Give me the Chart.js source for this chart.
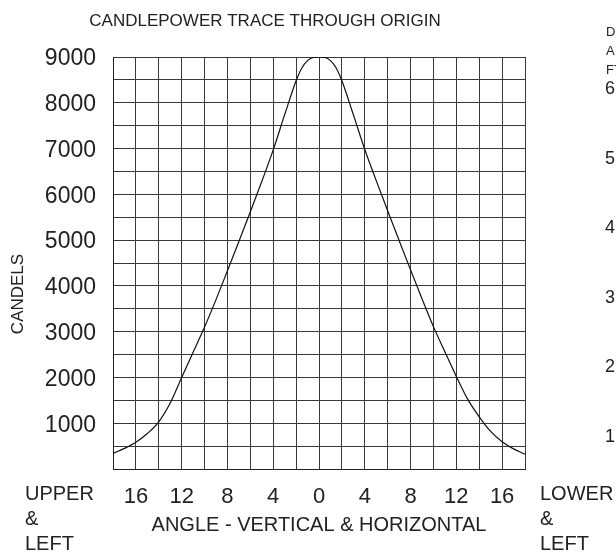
<!DOCTYPE html>
<html>
<head>
<meta charset="utf-8">
<title>Candlepower trace</title>
<script src="https://cdn.jsdelivr.net/npm/chart.js@4.4.1/dist/chart.umd.min.js"></script>
<style>
  html, body { margin: 0; padding: 0; background: #fff; }
  #wrap { width: 616px; height: 552px; }
</style>
</head>
<body>
<div id="wrap"><canvas id="cpChart" width="616" height="552"></canvas></div>
<script>
// angle off axis (deg, upper/left negative) and candela at that angle
const angles = [-18, -17, -16, -15, -14, -13, -12, -11, -10, -9, -8, -7, -6, -5, -4, -3, -2, -1.5, -1, -0.5,
  0, 0.5, 1, 1.5, 2, 3, 4, 5, 6, 7, 8, 9, 10, 11, 12, 13, 14, 15, 16, 17, 18];
const candelas = [340, 450, 585, 775, 1030, 1440, 2000, 2550, 3100, 3700, 4330, 4970, 5620, 6280, 6970, 7740, 8480, 8760, 8920, 8990,
  9000, 8990, 8920, 8760, 8480, 7740, 6980, 6300, 5640, 4990, 4350, 3720, 3110, 2560, 2020, 1520, 1140, 820, 595, 440, 325];

const angleTicks = [-16, -12, -8, -4, 0, 4, 8, 12, 16];
const candelaTicks = [1000, 2000, 3000, 4000, 5000, 6000, 7000, 8000, 9000];
// scale from the neighbouring distance chart, cut off at the page edge
const distHead = ['D', 'A', 'FT'];
const distTicks = ['6', '5', '4', '3', '2', '1'];

const FONT = '"Liberation Sans", Arial, Helvetica, sans-serif';
const INK = '#222';

const extraText = {
  id: 'extraText',
  afterDraw(chart) {
    const ctx = chart.ctx;
    ctx.save();
    ctx.fillStyle = INK;
    ctx.textBaseline = 'middle';

    ctx.textAlign = 'center';
    ctx.font = '17px ' + FONT;
    ctx.fillText('CANDLEPOWER TRACE THROUGH ORIGIN', 265, 21);

    // y axis name
    ctx.save();
    ctx.translate(18, 294);
    ctx.rotate(-Math.PI / 2);
    ctx.font = '17px ' + FONT;
    ctx.fillText('CANDELS', 0, 0);
    ctx.restore();

    ctx.textAlign = 'left';
    ctx.font = '20px ' + FONT;
    ['UPPER', '&', 'LEFT'].forEach((t, i) => ctx.fillText(t, 25, 494 + i * 25));
    ['LOWER', '&', 'LEFT'].forEach((t, i) => ctx.fillText(t, 540, 494 + i * 25));

    ctx.font = '13px ' + FONT;
    distHead.forEach((t, i) => ctx.fillText(t, 606, 32 + i * 19));
    ctx.font = '18px ' + FONT;
    distTicks.forEach((t, i) => ctx.fillText(t, 605, 89 + i * 69.6));
    ctx.restore();
  }
};

new Chart(document.getElementById('cpChart'), {
  type: 'line',
  data: {
    datasets: [{
      data: angles.map((a, i) => ({ x: a, y: candelas[i] })),
      borderColor: '#111',
      borderWidth: 1.2,
      pointRadius: 0,
      cubicInterpolationMode: 'monotone',
      fill: false
    }]
  },
  options: {
    responsive: false,
    animation: false,
    layout: { padding: { top: 57, right: 91, bottom: 0, left: 0 } },
    plugins: { legend: { display: false }, tooltip: { enabled: false } },
    scales: {
      x: {
        type: 'linear',
        min: -18,
        max: 18,
        afterFit: s => { s.height = 83; },
        afterBuildTicks: s => { s.ticks = []; for (let v = -18; v <= 18; v += 2) s.ticks.push({ value: v }); },
        ticks: {
          autoSkip: false,
          maxRotation: 0,
          padding: 15,
          color: INK,
          font: { family: FONT, size: 22 },
          callback: v => angleTicks.includes(v) ? String(Math.abs(v)) : ''
        },
        grid: { color: '#3a3a3a', lineWidth: 1, drawTicks: false },
        border: { color: '#222', width: 1 },
        title: {
          display: true,
          text: 'ANGLE - VERTICAL & HORIZONTAL',
          color: INK,
          font: { family: FONT, size: 20 },
          padding: { top: 0, bottom: 15 }
        }
      },
      y: {
        min: 0,
        max: 9000,
        afterFit: s => { s.width = 113; },
        afterBuildTicks: s => { s.ticks = []; for (let v = 0; v <= 9000; v += 500) s.ticks.push({ value: v }); },
        ticks: {
          autoSkip: false,
          padding: 17,
          labelOffset: 2,
          color: INK,
          font: { family: FONT, size: 23 },
          callback: v => candelaTicks.includes(v) ? String(v) : ''
        },
        grid: { color: '#3a3a3a', lineWidth: 1, drawTicks: false },
        border: { color: '#222', width: 1 }
      }
    }
  },
  plugins: [extraText]
});
</script>
</body>
</html>
